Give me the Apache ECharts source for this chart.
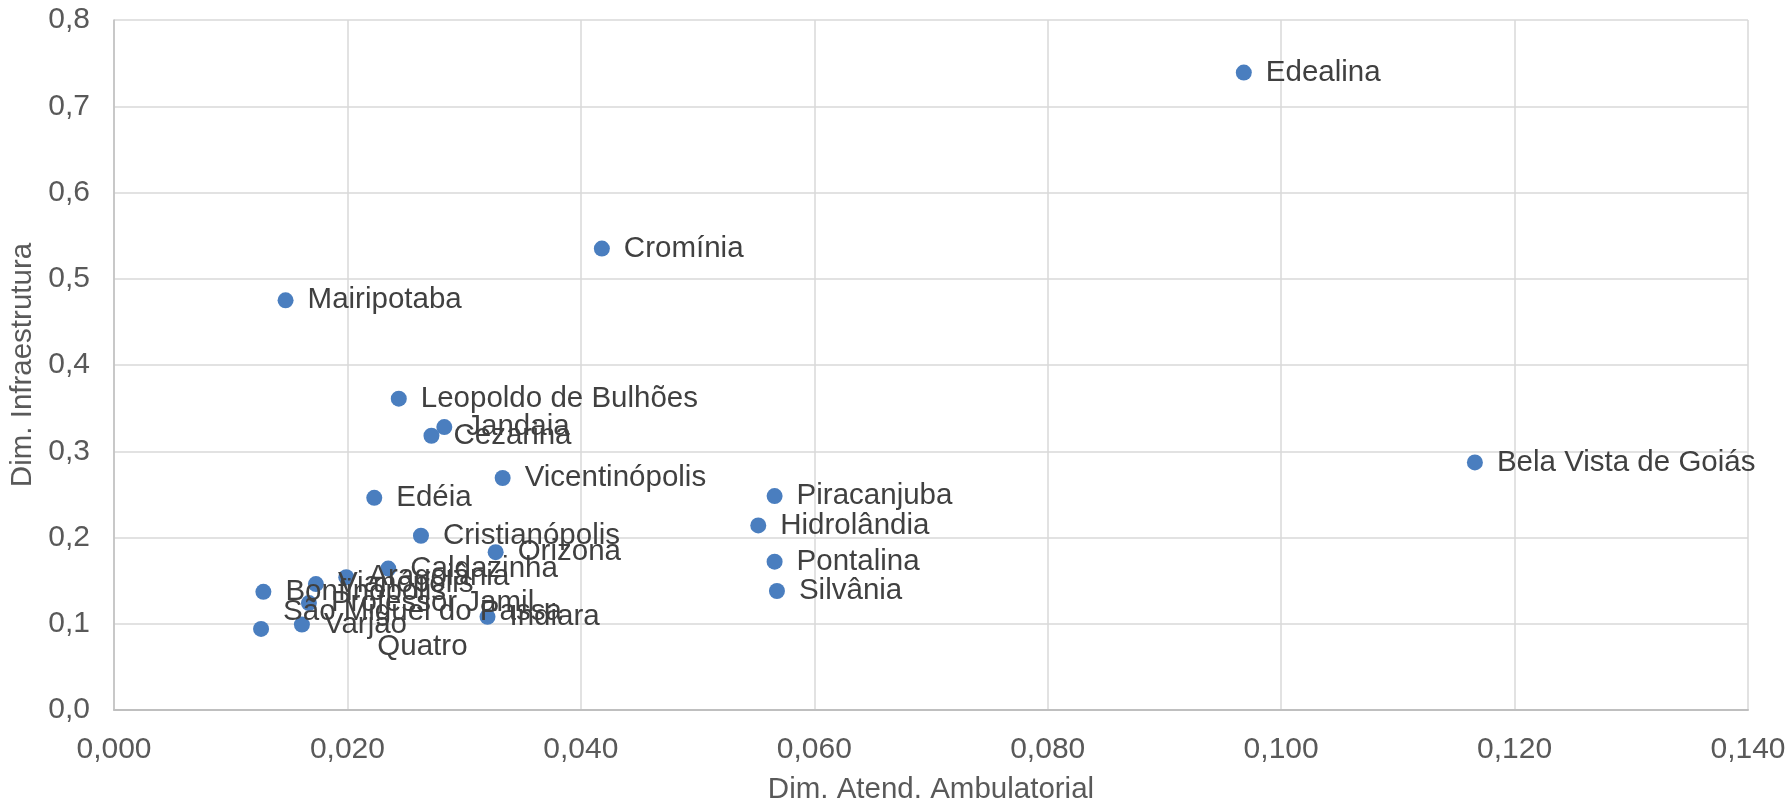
<!DOCTYPE html>
<html lang="pt">
<head>
    <meta charset="UTF-8">
    <title>Dispersão</title>
    <script src="https://cdn.jsdelivr.net/npm/echarts@6/dist/echarts.min.js"></script>
    <style>
        html, body { margin: 0; padding: 0; background: #fff; }
        #main { width: 1788px; height: 800px; }
    </style>
</head>
<body>
<div id="main"></div>
<script type="text/javascript">
    // municípios (rótulos dos pontos)
    var nomes = ['Edealina', 'Bela Vista de Goiás', 'Cromínia', 'Mairipotaba', 'Leopoldo de Bulhões',
        'Jandaia', 'Cezarina', 'Vicentinópolis', 'Edéia', 'Piracanjuba', 'Hidrolândia',
        'Cristianópolis', 'Orizona', 'Pontalina', 'Silvânia', 'Caldazinha', 'Aragoiânia',
        'Vianópolis', 'Bonfinópolis', 'Professor Jamil', 'Varjão', 'São Miguel do Passa Quatro', 'Indiara'];
    // Dim. Atend. Ambulatorial
    var atendAmb = [0.0968, 0.1166, 0.0418, 0.0147, 0.0244,
        0.0283, 0.0272, 0.0333, 0.0223, 0.0566, 0.0552,
        0.0263, 0.0327, 0.0566, 0.0568, 0.0235, 0.0199,
        0.0173, 0.0128, 0.0167, 0.0161, 0.0126, 0.0320];
    // Dim. Infraestrutura
    var infra = [0.739, 0.287, 0.535, 0.475, 0.361,
        0.328, 0.318, 0.269, 0.246, 0.248, 0.214,
        0.202, 0.183, 0.172, 0.138, 0.164, 0.154,
        0.146, 0.137, 0.124, 0.099, 0.094, 0.108];
    var xTicks = {min: 0, max: 0.14, step: 0.02};
    var yTicks = {min: 0, max: 0.8, step: 0.1};

    var dados = [];
    for (var i = 0; i < nomes.length; i++) {
        dados.push({name: nomes[i], value: [atendAmb[i], infra[i]]});
    }

    var myChart = echarts.init(document.getElementById('main'));
    var fonte = 'Liberation Sans, Arial, sans-serif';
    var option = {
        animation: false,
        textStyle: {fontFamily: fonte},
        grid: {left: 114, right: 40, top: 20, bottom: 90, containLabel: false, outerBoundsMode: 'none'},
        xAxis: {
            type: 'value',
            min: xTicks.min, max: xTicks.max, interval: xTicks.step,
            name: 'Dim. Atend. Ambulatorial',
            nameLocation: 'middle',
            nameGap: 65,
            nameTextStyle: {color: '#595959', fontSize: 29.5, fontFamily: fonte},
            axisLine: {show: true, lineStyle: {color: '#BFBFBF', width: 2}},
            axisTick: {show: false},
            axisLabel: {
                color: '#595959', fontSize: 30, margin: 25, fontFamily: fonte,
                formatter: function (v) { return v.toFixed(3).replace('.', ','); }
            },
            splitLine: {show: true, lineStyle: {color: '#D9D9D9', width: 1.5}}
        },
        yAxis: {
            type: 'value',
            min: yTicks.min, max: yTicks.max, interval: yTicks.step,
            name: 'Dim. Infraestrutura',
            nameLocation: 'middle',
            nameGap: 64,
            nameTextStyle: {color: '#595959', fontSize: 29.5, fontFamily: fonte},
            axisLine: {show: true, lineStyle: {color: '#BFBFBF', width: 1.5}},
            axisTick: {show: false},
            axisLabel: {
                color: '#595959', fontSize: 30, margin: 24, fontFamily: fonte,
                formatter: function (v) { return v.toFixed(1).replace('.', ','); }
            },
            splitLine: {show: true, lineStyle: {color: '#D9D9D9', width: 1.5}}
        },
        series: [{
            type: 'scatter',
            symbolSize: 16,
            itemStyle: {color: '#4A7EBF', opacity: 1},
            data: dados,
            label: {
                show: true,
                position: 'right',
                distance: 14,
                color: '#404040',
                fontSize: 29.5,
                fontFamily: fonte,
                formatter: function (p) {
                    if (p.name === 'São Miguel do Passa Quatro') {
                        return '{c|São Miguel do Passa}\n{c|Quatro}';
                    }
                    return p.name;
                },
                rich: {
                    c: {align: 'center', color: '#404040', fontSize: 29.5, lineHeight: 35, fontFamily: fonte}
                }
            }
        }]
    };
    myChart.setOption(option);
</script>
</body>
</html>
